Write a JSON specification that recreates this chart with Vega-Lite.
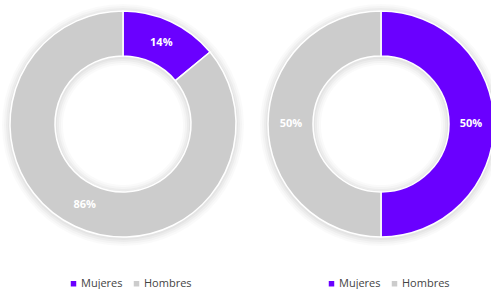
{
  "$schema": "https://vega.github.io/schema/vega-lite/v6.json",
  "padding": 0,
  "background": "white",
  "spacing": 0,
  "config": {"view": {"stroke": null}, "font": "Open Sans"},
  "resolve": {"scale": {"color": "independent"}, "legend": {"color": "independent"}},
  "hconcat": [
    {
      "width": 246,
      "height": 248,
      "data": {"values": [
        {"g": "Mujeres", "v": 14, "i": 1, "label": "14%"},
        {"g": "Hombres", "v": 86, "i": 2, "label": "86%"}
      ]},
      "encoding": {
        "theta": {"field": "v", "type": "quantitative", "stack": true},
        "order": {"field": "i", "type": "quantitative"},
        "color": {"field": "g", "type": "nominal",
          "scale": {"domain": ["Mujeres", "Hombres"], "range": ["#6a00ff", "#cccccc"]},
          "legend": {"orient": "none", "legendX": 68, "legendY": 278, "direction": "horizontal", "title": null, "symbolType": "square", "symbolSize": 30, "labelFontSize": 11, "labelColor": "#444444", "labelFont": "Open Sans", "labelOffset": 2, "columnPadding": 8, "symbolStrokeWidth": 0}}
      },
      "layer": [
        {"mark": {"type": "arc", "outerRadius": 121, "innerRadius": 60, "yOffset": 1}, "encoding": {"color": {"value": "black"}, "opacity": {"value": 0.02}}},
        {"mark": {"type": "arc", "outerRadius": 119, "innerRadius": 62, "yOffset": 1}, "encoding": {"color": {"value": "black"}, "opacity": {"value": 0.025}}},
        {"mark": {"type": "arc", "outerRadius": 117, "innerRadius": 64, "yOffset": 1}, "encoding": {"color": {"value": "black"}, "opacity": {"value": 0.03}}},
        {"mark": {"type": "arc", "outerRadius": 115, "innerRadius": 66, "yOffset": 1}, "encoding": {"color": {"value": "black"}, "opacity": {"value": 0.03}}},
        {"mark": {"type": "arc", "outerRadius": 113, "innerRadius": 68, "stroke": "white", "strokeWidth": 1.5}},
        {"mark": {"type": "text", "radius": 90, "fontWeight": "bold", "fontSize": 11, "font": "Open Sans"},
         "encoding": {"text": {"field": "label"}, "color": {"value": "white"}}}
      ]
    },
    {
      "width": 245,
      "height": 248,
      "data": {"values": [
        {"g": "Mujeres", "v": 50, "i": 1, "label": "50%"},
        {"g": "Hombres", "v": 50, "i": 2, "label": "50%"}
      ]},
      "encoding": {
        "theta": {"field": "v", "type": "quantitative", "stack": true},
        "order": {"field": "i", "type": "quantitative"},
        "color": {"field": "g", "type": "nominal",
          "scale": {"domain": ["Mujeres", "Hombres"], "range": ["#6a00ff", "#cccccc"]},
          "legend": {"orient": "none", "legendX": 80, "legendY": 278, "direction": "horizontal", "title": null, "symbolType": "square", "symbolSize": 30, "labelFontSize": 11, "labelColor": "#444444", "labelFont": "Open Sans", "labelOffset": 2, "columnPadding": 8, "symbolStrokeWidth": 0}}
      },
      "layer": [
        {"mark": {"type": "arc", "outerRadius": 121, "innerRadius": 60, "xOffset": 12.5, "yOffset": 1}, "encoding": {"color": {"value": "black"}, "opacity": {"value": 0.02}}},
        {"mark": {"type": "arc", "outerRadius": 119, "innerRadius": 62, "xOffset": 12.5, "yOffset": 1}, "encoding": {"color": {"value": "black"}, "opacity": {"value": 0.025}}},
        {"mark": {"type": "arc", "outerRadius": 117, "innerRadius": 64, "xOffset": 12.5, "yOffset": 1}, "encoding": {"color": {"value": "black"}, "opacity": {"value": 0.03}}},
        {"mark": {"type": "arc", "outerRadius": 115, "innerRadius": 66, "xOffset": 12.5, "yOffset": 1}, "encoding": {"color": {"value": "black"}, "opacity": {"value": 0.03}}},
        {"mark": {"type": "arc", "outerRadius": 113, "innerRadius": 68, "stroke": "white", "strokeWidth": 1.5, "xOffset": 12.5}},
        {"mark": {"type": "text", "radius": 90, "fontWeight": "bold", "fontSize": 11, "font": "Open Sans", "xOffset": 12.5},
         "encoding": {"text": {"field": "label"}, "color": {"value": "white"}}}
      ]
    }
  ]
}
